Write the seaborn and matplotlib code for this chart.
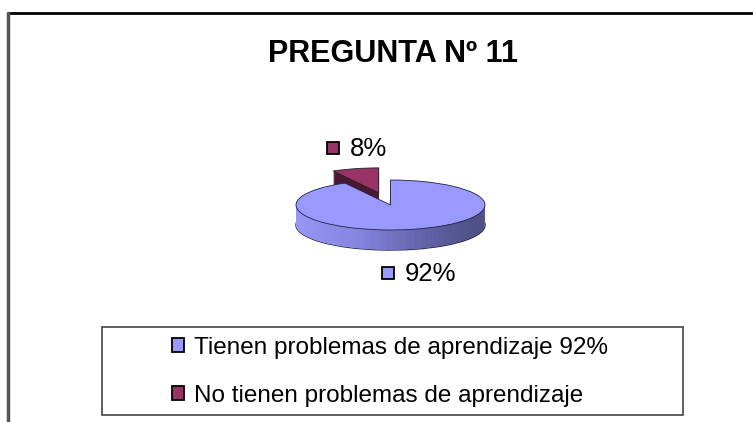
import numpy as np
import matplotlib
matplotlib.use("Agg")
import matplotlib.pyplot as plt
from matplotlib.colors import LinearSegmentedColormap
from matplotlib.patches import Patch, Rectangle
from matplotlib.lines import Line2D
import seaborn as sns

# datos
categorias = ["Tienen problemas de aprendizaje 92%", "No tienen problemas de aprendizaje"]
valores = [92, 8]
etiquetas = ["92%", "8%"]
colores = ["#9999ff", "#993366"]
lados = ["#5a5aa8", "#4a1832"]

sns.set_theme(style="white")
plt.rcParams["font.family"] = ["Liberation Sans", "DejaVu Sans"]
plt.rcParams["text.color"] = "black"

W, H = 753, 422
fig = plt.figure(figsize=(W / 100, H / 100), dpi=100)
fig.patch.set_facecolor("white")

# ejes de referencia en pixeles
base = fig.add_axes([0, 0, 1, 1])
base.set_xlim(0, W)
base.set_ylim(H, 0)
base.axis("off")

# marco exterior del grafico
fig.add_artist(Line2D([8 / W, 1], [1 - 13 / H, 1 - 13 / H], color="black", lw=2))
fig.add_artist(Line2D([8 / W, 8 / W], [0, 1 - 13 / H], color="#555555", lw=2.5))

base.text(393, 54, "PREGUNTA Nº 11", ha="center", va="center",
          fontsize=22, fontweight="bold", color="black")

# pastel 3D: elipse rx=94.5px, ry=25px, centro (390.5, 205)
cx, cy, rx, ry = 390.5, 205, 94.5, 25
ylo, yhi = -2.2, 1.8
ax = fig.add_axes([(cx - 1.25 * rx) / W, (H - (cy - ylo * ry)) / H,
                   2.5 * rx / W, (yhi - ylo) * ry / H])
prof = 0.8
capas = np.linspace(prof, 0.0, 41)
explode = [0, 0.5]
grad = LinearSegmentedColormap.from_list("g", ["#9898f2", "#8080d6", "#50508a", "#30304f"])
img = np.linspace(0, 1, 256).reshape(1, -1)

z = 1
# primero la porcion separada (esta detras)
for k in capas:
    w, _ = ax.pie([valores[0], valores[1]], explode=explode, startangle=90,
                  counterclock=False, center=(0, -k), radius=1,
                  colors=["none", lados[1] if k > 0 else colores[1]],
                  wedgeprops=dict(linewidth=0))
    w[0].set_visible(False)
    w[1].set_zorder(z)
    if k == 0:
        w[1].set_edgecolor("#222222")
        w[1].set_linewidth(0.6)
    z += 1
for k in capas:
    w, _ = ax.pie([valores[0], valores[1]], explode=explode, startangle=90,
                  counterclock=False, center=(0, -k), radius=1,
                  colors=[colores[0], "none"],
                  wedgeprops=dict(linewidth=0))
    w[1].set_visible(False)
    w[0].set_zorder(z)
    if k > 0:
        im = ax.imshow(img, cmap=grad, aspect="auto",
                       extent=(-1, 1, -1 - prof, 1), zorder=z + 0.5)
        im.set_clip_path(w[0])
        if k == capas[0]:
            w[0].set_edgecolor("#222244")
            w[0].set_linewidth(1.0)
            w[0].set_facecolor("#222244")
    else:
        w[0].set_edgecolor("#222244")
        w[0].set_linewidth(0.6)
    z += 1
ax.set_xlim(-1.25, 1.25)
ax.set_ylim(ylo, yhi)
ax.set_aspect("auto")
ax.axis("off")

# etiquetas de datos
for (sx, sy), col, txt in [((333, 148), colores[1], etiquetas[1]),
                           ((388, 273), colores[0], etiquetas[0])]:
    base.plot(sx, sy, marker="s", markersize=8.5, markerfacecolor=col,
              markeredgecolor="black", markeredgewidth=1.3, linestyle="none")
    base.text(sx + 17, sy + 1, txt, ha="left", va="center", fontsize=18.5)

# leyenda
base.add_patch(Rectangle((102, 327), 581, 88, facecolor="white",
                         edgecolor="#444444", lw=1.2, zorder=0))
handles = [Patch(facecolor=c, edgecolor="black", linewidth=1.3) for c in colores]
leg = base.legend(handles, categorias, loc="upper left",
                  bbox_to_anchor=(172 / W, 1 - 337 / H), bbox_transform=fig.transFigure,
                  frameon=False, fontsize=17.5, handlelength=0.5, handleheight=0.5,
                  handletextpad=0.4, labelspacing=1.05, borderaxespad=0, borderpad=0)

fig.savefig("out.png", dpi=100, facecolor="white")
